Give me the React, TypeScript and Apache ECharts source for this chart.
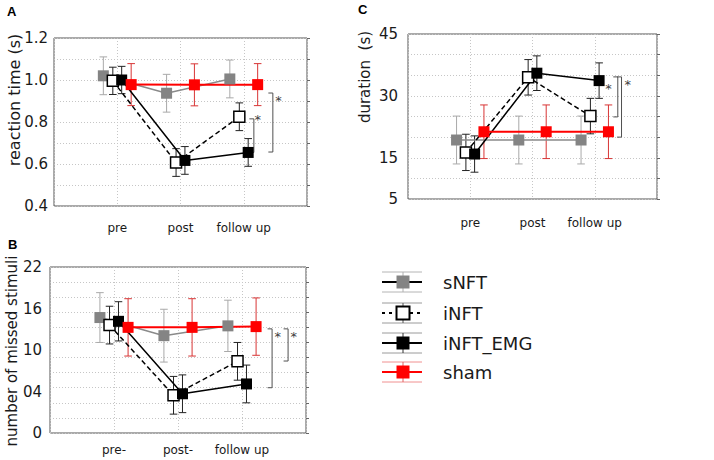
import React, { useEffect, useRef } from 'react';
import * as echarts from 'echarts';

// ---------- data ----------
const GROUPS = ['sNFT', 'iNFT', 'iNFT_EMG', 'sham'];

// Panel A: reaction time (s)
const A_X_LABELS = ['pre', 'post', 'follow up'];
const A_Y_TICKS = [0.4, 0.6, 0.8, 1.0, 1.2];
const A_SNFT = [1.02, 0.937, 1.005];
const A_SNFT_ERR = [0.09, 0.09, 0.09];
const A_INFT = [0.996, 0.607, 0.825];
const A_INFT_ERR = [0.065, 0.066, 0.066];
const A_EMG = [1.0, 0.617, 0.655];
const A_EMG_ERR = [0.065, 0.066, 0.066];
const A_SHAM = [0.978, 0.977, 0.978];
const A_SHAM_ERR = [0.1, 0.1, 0.1];
// [x, top, bottom, starX, starY]
const A_BRACKETS = [
  [3.46, 0.938, 0.657, 3.55, 0.919],
  [3.16, 0.815, 0.655, 3.22, 0.824],
];

// Panel B: number of missed stimuli
const B_X_LABELS = ['pre-', 'post-', 'follow up'];
const B_Y_TICK_LABELS = ['0', '04', '10', '16', '22'];
const B_SNFT = [15.3, 12.9, 14.2];
const B_SNFT_ERR = [3.3, 3.5, 3.4];
const B_INFT = [14.3, 5.0, 9.5];
const B_INFT_ERR = [2.5, 2.5, 2.5];
const B_EMG = [14.8, 5.2, 6.5];
const B_EMG_ERR = [2.6, 2.5, 2.5];
const B_SHAM = [14.0, 14.0, 14.1];
const B_SHAM_ERR = [3.8, 3.8, 3.8];
const B_BRACKETS = [
  [3.47, 13.8, 6.0, 3.56, 13.25],
  [3.72, 13.8, 9.54, 3.81, 13.25],
];

// Panel C: duration (s)
const C_X_LABELS = ['pre', 'post', 'follow up'];
const C_Y_TICKS = [5, 15, 30, 45];
const C_SNFT = [19.3, 19.3, 19.3];
const C_SNFT_ERR = [5.8, 5.8, 5.8];
const C_INFT = [16.3, 34.5, 25.1];
const C_INFT_ERR = [4.4, 4.3, 4.3];
const C_EMG = [15.9, 35.5, 33.7];
const C_EMG_ERR = [4.4, 4.2, 4.3];
const C_SHAM = [21.3, 21.3, 21.3];
const C_SHAM_ERR = [6.5, 6.5, 6.5];
const C_BRACKETS = [
  [3.37, 34.6, 24.9, 3.22, 32.6],
  [3.43, 34.6, 20.0, 3.53, 33.4],
];

// ---------- styles ----------
const FONT = 'DejaVu Sans';
const DODGE = [-0.22, -0.07, 0.07, 0.22];
const STYLES = [
  { line: '#8a8a8a', lw: 1.5, dash: 'solid' as any, fill: '#848484', border: '#848484', err: '#a9a9a9' },
  { line: '#000000', lw: 1.5, dash: [5, 3] as any, fill: '#ffffff', border: '#000000', err: '#222222' },
  { line: '#000000', lw: 1.5, dash: 'solid' as any, fill: '#000000', border: '#000000', err: '#222222' },
  { line: '#ff0000', lw: 2, dash: 'solid' as any, fill: '#ff0000', border: '#ff0000', err: '#d83535' },
];

function buildOption() {
  const panels = [
    {
      grid: { left: 54, top: 38, width: 253, height: 168 },
      xLabels: A_X_LABELS, xMargin: 16,
      yMin: 0.4, yMax: 1.2, yStep: 0.1, yMargin: 6,
      yLabel: (v: number) => {
        const r = Math.round(v * 10) / 10;
        return A_Y_TICKS.some((t) => Math.abs(t - r) < 1e-6) ? r.toFixed(1) : '';
      },
      labelStep: null as number | null,
      means: [A_SNFT, A_INFT, A_EMG, A_SHAM],
      errs: [A_SNFT_ERR, A_INFT_ERR, A_EMG_ERR, A_SHAM_ERR],
      brackets: A_BRACKETS,
    },
    {
      grid: { left: 50, top: 267, width: 256, height: 166 },
      xLabels: B_X_LABELS, xMargin: 11,
      yMin: 0, yMax: 22, yStep: 2, yMargin: 8,
      yLabel: (v: number) => B_Y_TICK_LABELS[Math.round(v / 5.5)] ?? '',
      labelStep: 5.5 as number | null,
      means: [B_SNFT, B_INFT, B_EMG, B_SHAM],
      errs: [B_SNFT_ERR, B_INFT_ERR, B_EMG_ERR, B_SHAM_ERR],
      brackets: B_BRACKETS,
    },
    {
      grid: { left: 408, top: 34, width: 249, height: 165 },
      xLabels: C_X_LABELS, xMargin: 18,
      yMin: 5, yMax: 45, yStep: 5, yMargin: 10,
      yLabel: (v: number) => (C_Y_TICKS.includes(Math.round(v)) ? String(Math.round(v)) : ''),
      labelStep: null as number | null,
      means: [C_SNFT, C_INFT, C_EMG, C_SHAM],
      errs: [C_SNFT_ERR, C_INFT_ERR, C_EMG_ERR, C_SHAM_ERR],
      brackets: C_BRACKETS,
    },
  ];

  const grids: any[] = [];
  const xAxes: any[] = [];
  const yAxes: any[] = [];
  const series: any[] = [];
  const gridLine = { show: true, lineStyle: { color: '#c6c6c6', type: [1, 2], width: 1 } };
  const tickFont = 15;

  panels.forEach((p, gi) => {
    grids.push({ ...p.grid, show: true, borderColor: '#555555', borderWidth: 1, backgroundColor: 'transparent' });
    const xi = xAxes.length;
    xAxes.push({
      type: 'value', gridIndex: gi, min: 0, max: 4, interval: 1,
      axisLine: { show: false }, axisTick: { show: false }, splitLine: gridLine,
      axisLabel: {
        margin: p.xMargin, fontSize: 12, fontFamily: FONT, color: '#1a1a1a',
        formatter: (v: number) => p.xLabels[Math.round(v) - 1] ?? '',
      },
    });
    const yi = yAxes.length;
    yAxes.push({
      type: 'value', gridIndex: gi, position: 'left', min: p.yMin, max: p.yMax, interval: p.yStep,
      axisLine: { show: false }, axisTick: { show: false }, splitLine: gridLine,
      axisLabel: p.labelStep
        ? { show: false }
        : { margin: p.yMargin, fontSize: tickFont, fontFamily: FONT, color: '#1a1a1a', formatter: p.yLabel },
    });
    if (p.labelStep) {
      yAxes.push({
        type: 'value', gridIndex: gi, position: 'left', min: p.yMin, max: p.yMax, interval: p.labelStep,
        axisLine: { show: false }, axisTick: { show: false }, splitLine: { show: false },
        axisLabel: { margin: p.yMargin, fontSize: tickFont, fontFamily: FONT, color: '#1a1a1a', formatter: p.yLabel },
      });
    }
    yAxes.push({
      type: 'value', gridIndex: gi, position: 'right', min: p.yMin, max: p.yMax, interval: p.yStep,
      axisLine: { show: false },
      axisTick: { show: true, inside: false, length: 3, lineStyle: { color: '#666' } },
      axisLabel: { show: false }, splitLine: { show: false },
    });

    // error bars
    GROUPS.forEach((g, k) => {
      const st = STYLES[k];
      series.push({
        type: 'custom', name: g + '_err', xAxisIndex: xi, yAxisIndex: yi, z: 1, silent: true,
        data: p.means[k].map((m, c) => [c + 1 + DODGE[k], m - p.errs[k][c], m + p.errs[k][c]]),
        encode: { x: 0, y: [1, 2] },
        renderItem: (_params: any, api: any) => {
          const x = api.value(0);
          const lo = api.coord([x, api.value(1)]);
          const hi = api.coord([x, api.value(2)]);
          const w = 3.8;
          const s = { stroke: st.err, lineWidth: 1 };
          return {
            type: 'group',
            children: [
              { type: 'line', shape: { x1: lo[0], y1: lo[1], x2: hi[0], y2: hi[1] }, style: s },
              { type: 'line', shape: { x1: lo[0] - w, y1: lo[1], x2: lo[0] + w, y2: lo[1] }, style: s },
              { type: 'line', shape: { x1: hi[0] - w, y1: hi[1], x2: hi[0] + w, y2: hi[1] }, style: s },
            ],
          };
        },
      });
    });

    // brackets with asterisks
    series.push({
      type: 'custom', name: 'sig', xAxisIndex: xi, yAxisIndex: yi, z: 1, silent: true,
      data: p.brackets,
      encode: { x: [0, 3], y: [1, 2, 4] },
      renderItem: (_params: any, api: any) => {
        const x = api.value(0);
        const t = api.coord([x, api.value(1)]);
        const b = api.coord([x, api.value(2)]);
        const s = api.coord([api.value(3), api.value(4)]);
        const tick = 4.5;
        return {
          type: 'group',
          children: [
            {
              type: 'polyline',
              shape: { points: [[t[0] - tick, t[1]], t, b, [b[0] - tick, b[1]]] },
              style: { stroke: '#505050', fill: 'none', lineWidth: 1 },
            },
            {
              type: 'text', x: s[0], y: s[1] + 3,
              style: { text: '*', font: `13px "${FONT}"`, fill: '#404040', align: 'center', verticalAlign: 'middle' },
            },
          ],
        };
      },
    });

    // lines with square markers
    GROUPS.forEach((g, k) => {
      const st = STYLES[k];
      series.push({
        type: 'line', name: g, xAxisIndex: xi, yAxisIndex: yi, z: 2,
        data: p.means[k].map((m, c) => [c + 1 + DODGE[k], m]),
        symbol: 'rect', symbolSize: 11, showSymbol: true,
        lineStyle: { color: st.line, width: st.lw, type: st.dash },
        itemStyle: { color: st.fill, borderColor: st.border, borderWidth: k === 1 ? 1.5 : 0, opacity: 1 },
        emphasis: { disabled: true },
      });
    });
  });

  // legend (graphic)
  const legendY = [282, 313, 343, 372];
  const capColors = ['#b4b4b4', '#9a9a9a', '#9a9a9a', '#f09090'];
  const vColors = ['#b0b0b0', '#555555', '#333333', '#e06060'];
  const legend: any[] = [];
  GROUPS.forEach((g, k) => {
    const st = STYLES[k];
    const yc = legendY[k];
    legend.push(
      { type: 'line', shape: { x1: 382, y1: yc - 10, x2: 422, y2: yc - 10 }, style: { stroke: capColors[k], lineWidth: 1 } },
      { type: 'line', shape: { x1: 382, y1: yc + 10, x2: 422, y2: yc + 10 }, style: { stroke: capColors[k], lineWidth: 1 } },
      { type: 'line', shape: { x1: 403, y1: yc - 10, x2: 403, y2: yc + 10 }, style: { stroke: vColors[k], lineWidth: 1 } },
      {
        type: 'line', shape: { x1: 382, y1: yc, x2: 422, y2: yc },
        style: { stroke: k === 3 ? '#ff0000' : '#000000', lineWidth: 2, lineDash: k === 1 ? [3, 4] : null },
      },
      {
        type: 'rect', shape: { x: 396.5, y: yc - 6.5, width: 13, height: 13 },
        style: { fill: st.fill, stroke: k === 1 ? '#000' : st.fill, lineWidth: k === 1 ? 2 : 0 },
      },
      {
        type: 'text', x: 443, y: yc,
        style: { text: g, font: `18px "${FONT}"`, fill: '#1a1a1a', align: 'left', verticalAlign: 'middle' },
      },
    );
  });

  const titles: any[] = [
    { type: 'text', x: 14, y: 100, rotation: Math.PI / 2, style: { text: 'reaction time (s)', font: `16px "${FONT}"`, fill: '#1a1a1a', align: 'center', verticalAlign: 'middle' } },
    { type: 'text', x: 12, y: 351, rotation: Math.PI / 2, style: { text: 'number of missed stimuli', font: `15px "${FONT}"`, fill: '#1a1a1a', align: 'center', verticalAlign: 'middle' } },
    { type: 'text', x: 365, y: 77, rotation: Math.PI / 2, style: { text: 'duration  (s)', font: `15px "${FONT}"`, fill: '#1a1a1a', align: 'center', verticalAlign: 'middle' } },
    { type: 'text', x: 7, y: 11, style: { text: 'A', font: 'bold 13px "Liberation Sans"', fill: '#000', align: 'left', verticalAlign: 'middle' } },
    { type: 'text', x: 8, y: 244, style: { text: 'B', font: 'bold 13px "Liberation Sans"', fill: '#000', align: 'left', verticalAlign: 'middle' } },
    { type: 'text', x: 358, y: 9, style: { text: 'C', font: 'bold 13px "Liberation Sans"', fill: '#000', align: 'left', verticalAlign: 'middle' } },
  ];

  return {
    animation: false,
    backgroundColor: '#ffffff',
    textStyle: { fontFamily: FONT },
    grid: grids,
    xAxis: xAxes,
    yAxis: yAxes,
    series,
    graphic: [...titles, ...legend],
  };
}

export default function App() {
  const ref = useRef<HTMLDivElement>(null);
  useEffect(() => {
    if (!ref.current) return;
    const chart = echarts.init(ref.current, undefined, { renderer: 'svg' });
    chart.setOption(buildOption() as any);
    return () => chart.dispose();
  }, []);
  return (
    <div
      ref={ref}
      style={{ position: 'fixed', left: 0, top: 0, width: 714, height: 460, background: '#fff' }}
    />
  );
}
